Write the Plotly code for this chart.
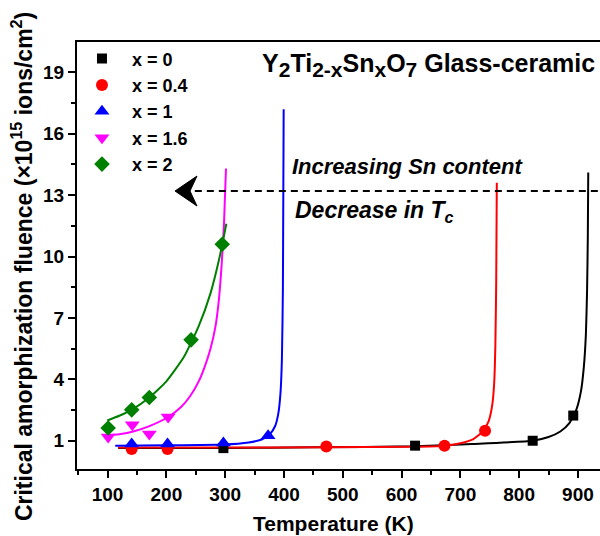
import plotly.graph_objects as go

# ---------------- data ----------------
# measured points
T_x0 = [297, 623, 823, 892]
F_x0 = [0.64, 0.76, 1.00, 2.23]
T_x04 = [141, 202, 472, 673, 742]
F_x04 = [0.60, 0.60, 0.72, 0.76, 1.49]
T_x1 = [141, 202, 297, 373]
F_x1 = [0.84, 0.84, 0.89, 1.24]
T_x16 = [101, 142, 171, 203]
F_x16 = [1.18, 1.78, 1.33, 2.16]
T_x2 = [101, 141, 171, 242, 295]
F_x2 = [1.62, 2.51, 3.11, 5.93, 10.6]

# fitted curves
fitT_x0 = [118, 300, 450, 623, 720, 823, 850, 870, 885, 897, 905, 910, 913.5, 915.5, 916.8, 917.5]
fitF_x0 = [0.64, 0.65, 0.68, 0.73, 0.84, 1.00, 1.18, 1.45, 1.85, 2.5, 3.4, 4.6, 6.2, 8.3, 11.0, 14.1]
fitT_x04 = [118, 300, 470, 620, 672, 700, 722, 738, 748, 754, 757.5, 759.5, 761, 762]
fitF_x04 = [0.67, 0.67, 0.68, 0.71, 0.76, 0.88, 1.08, 1.45, 1.95, 2.7, 3.8, 5.6, 8.8, 13.6]
fitT_x1 = [113, 200, 297, 340, 362, 376, 385, 390.5, 394, 396.5, 398.2, 399.5]
fitF_x1 = [0.76, 0.78, 0.82, 0.92, 1.06, 1.32, 1.72, 2.35, 3.3, 5.0, 8.5, 17.2]
fitT_x16 = [92.7, 120, 143.7, 170, 203, 225, 240, 255, 265, 275, 283, 289, 294, 298, 301.4]
fitF_x16 = [1.24, 1.32, 1.45, 1.70, 2.16, 2.65, 3.16, 3.90, 4.60, 5.50, 6.50, 7.80, 9.60, 11.6, 14.3]
fitT_x2 = [99.5, 120, 141, 171, 200, 230, 255, 275, 290, 302]
fitF_x2 = [1.99, 2.22, 2.51, 3.11, 3.90, 5.10, 6.60, 8.20, 9.90, 11.6]

labels = ["x = 0", "x = 0.4", "x = 1", "x = 1.6", "x = 2"]
colors = ["#000000", "#FF0000", "#0000FF", "#FF00FF", "#008000"]
symbols = ["square", "circle", "triangle-up", "triangle-down", "diamond"]
msizes = [10, 12, 13, 13, 12]

x_ticks = [100, 200, 300, 400, 500, 600, 700, 800, 900]
y_ticks = [1, 4, 7, 10, 13, 16, 19]

pts = [(T_x0, F_x0), (T_x04, F_x04), (T_x1, F_x1), (T_x16, F_x16), (T_x2, F_x2)]
fits = [(fitT_x0, fitF_x0), (fitT_x04, fitF_x04), (fitT_x1, fitF_x1),
        (fitT_x16, fitF_x16), (fitT_x2, fitF_x2)]

FONT = "Liberation Sans, Arial, sans-serif"

fig = go.Figure()
for (fx, fy), c in zip(fits, colors):
    fig.add_trace(go.Scatter(x=fx, y=fy, mode="lines", showlegend=False,
                             line=dict(color=c, width=2, shape="spline", smoothing=0.5),
                             hoverinfo="skip"))
for (px, py), lab, c, s, ms in zip(pts, labels, colors, symbols, msizes):
    fig.add_trace(go.Scatter(x=px, y=py, mode="markers", name=lab,
                             marker=dict(color=c, symbol=s, size=ms, line=dict(width=0))))

# dashed guide line with arrowhead
fig.add_shape(type="line", xref="x", yref="y", x0=228, x1=945, y0=13.2, y1=13.2,
              line=dict(color="black", width=2, dash="7px,5px"))
fig.add_shape(type="path", xref="x", yref="y", xsizemode="pixel", ysizemode="pixel",
              xanchor=214.7, yanchor=13.2,
              path="M0,0 L22,15 L15,0 L22,-15 Z",
              fillcolor="black", line=dict(color="black", width=1))

fig.add_annotation(x=410, y=14.4, xref="x", yref="y", xanchor="left", yanchor="middle",
                   text="<b><i>Increasing Sn content</i></b>", showarrow=False,
                   font=dict(family=FONT, size=22, color="black"))
fig.add_annotation(x=416, y=12.2, xref="x", yref="y", xanchor="left", yanchor="middle",
                   text="<b><i>Decrease in T<sub>c</sub></i></b>", showarrow=False,
                   font=dict(family=FONT, size=23, color="black"))
fig.add_annotation(x=359, y=19.35, xref="x", yref="y", xanchor="left", yanchor="middle",
                   text="<b>Y<sub><span style='font-size:21px'>2</span></sub>Ti"
                        "<sub><span style='font-size:21px'>2-x</span></sub>Sn"
                        "<sub><span style='font-size:21px'>x</span></sub>O"
                        "<sub><span style='font-size:21px'>7</span></sub> Glass-ceramic</b>",
                   showarrow=False, font=dict(family=FONT, size=25, color="black"))

# axis titles placed as rotated / plain paper annotations
fig.add_annotation(x=-0.105, y=0.473, xref="paper", yref="paper", textangle=-90,
                   xanchor="center", yanchor="middle", showarrow=False,
                   text="<b>Critical amorphization fluence (×10<sup>15</sup> ions/cm<sup>2</sup>)</b>",
                   font=dict(family=FONT, size=23, color="black"))
fig.add_annotation(x=0.4895, y=-0.128, xref="paper", yref="paper",
                   xanchor="center", yanchor="middle", showarrow=False,
                   text="<b>Temperature (K)</b>",
                   font=dict(family=FONT, size=21, color="black"))

fig.update_layout(
    width=600, height=536,
    margin=dict(l=77, r=0, t=42, b=67),
    paper_bgcolor="white", plot_bgcolor="white",
    font=dict(family=FONT, color="black"),
    legend=dict(x=-0.0096, y=1.004, xanchor="left", yanchor="top",
                bgcolor="rgba(0,0,0,0)", borderwidth=0,
                font=dict(family=FONT, size=18, color="black", weight="bold"),
                itemwidth=50, tracegroupgap=0),
)
fig.update_xaxes(
    range=[48, 937.5], tickvals=x_ticks, ticktext=[str(v) for v in x_ticks],
    automargin=False,
    showgrid=False, zeroline=False,
    showline=True, linecolor="black", linewidth=2, mirror=True,
    ticks="outside", ticklen=7, tickwidth=2, tickcolor="black",
    minor=dict(tickvals=[v + 50 for v in [0] + x_ticks], ticks="outside", ticklen=4,
               tickwidth=2, tickcolor="black", showgrid=False),
    tickfont=dict(family=FONT, size=19, color="black", weight="bold"),
)
fig.update_yaxes(
    range=[-0.38, 20.48], tickvals=y_ticks, ticktext=[str(v) for v in y_ticks],
    automargin=False,
    showgrid=False, zeroline=False,
    showline=True, linecolor="black", linewidth=2, mirror=False,
    ticks="outside", ticklen=7, tickwidth=2, tickcolor="black",
    minor=dict(tickvals=[v + 1.5 for v in y_ticks], ticks="outside", ticklen=4,
               tickwidth=2, tickcolor="black", showgrid=False),
    tickfont=dict(family=FONT, size=19, color="black", weight="bold"),
)

fig.write_html("out.html", config={"displayModeBar": False},
               post_script="document.body.style.margin='0px';")
